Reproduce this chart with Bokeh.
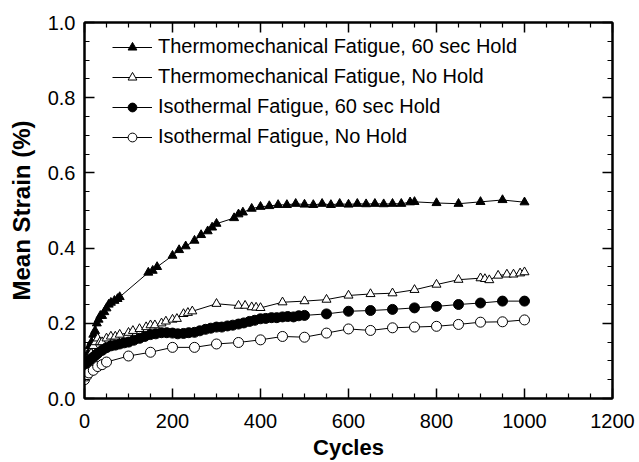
from bokeh.plotting import figure
from bokeh.models import Legend, LegendItem, LinearAxis, FixedTicker, Range1d, CustomJSTickFormatter
from bokeh.embed import file_html
from bokeh.resources import INLINE

tmf60_x = [0, 4, 8, 12, 16, 20, 24, 28, 32, 36, 40, 45, 50, 55, 60, 68, 75, 80, 145, 155, 165, 200, 215, 230, 250, 265, 280, 290, 300, 340, 350, 360, 380, 400, 420, 440, 460, 480, 500, 520, 540, 560, 580, 600, 620, 640, 660, 680, 700, 720, 740, 750, 800, 850, 900, 950, 1000]
tmf60_y = [0.08, 0.10, 0.12, 0.14, 0.15, 0.17, 0.18, 0.20, 0.21, 0.22, 0.22, 0.23, 0.24, 0.25, 0.255, 0.26, 0.265, 0.27, 0.335, 0.34, 0.35, 0.38, 0.395, 0.405, 0.42, 0.435, 0.445, 0.455, 0.465, 0.48, 0.49, 0.495, 0.505, 0.51, 0.512, 0.515, 0.515, 0.518, 0.516, 0.515, 0.518, 0.515, 0.518, 0.516, 0.518, 0.517, 0.518, 0.517, 0.518, 0.518, 0.522, 0.523, 0.52, 0.518, 0.523, 0.528, 0.522]

tmfnh_x = [0, 5, 10, 15, 20, 25, 30, 35, 40, 50, 60, 70, 80, 100, 110, 125, 140, 150, 160, 175, 185, 200, 210, 225, 235, 245, 300, 350, 365, 380, 390, 400, 450, 500, 550, 600, 650, 700, 750, 800, 850, 900, 910, 920, 940, 960, 975, 990, 1000]
tmfnh_y = [0.09, 0.10, 0.11, 0.12, 0.14, 0.15, 0.16, 0.15, 0.15, 0.16, 0.165, 0.165, 0.17, 0.175, 0.18, 0.185, 0.19, 0.195, 0.195, 0.2, 0.205, 0.21, 0.212, 0.225, 0.228, 0.232, 0.252, 0.247, 0.247, 0.243, 0.242, 0.241, 0.256, 0.259, 0.263, 0.274, 0.278, 0.28, 0.289, 0.303, 0.316, 0.32, 0.318, 0.315, 0.327, 0.33, 0.33, 0.333, 0.336]

iso60_x = [0, 5, 10, 15, 20, 25, 30, 40, 50, 60, 70, 80, 90, 100, 112, 125, 137, 150, 162, 175, 187, 200, 212, 225, 237, 250, 262, 275, 287, 300, 312, 325, 337, 350, 362, 375, 387, 400, 412, 425, 437, 450, 462, 475, 487, 500, 550, 600, 650, 700, 750, 800, 850, 900, 950, 1000]
iso60_y = [0.085, 0.095, 0.10, 0.105, 0.11, 0.115, 0.12, 0.128, 0.135, 0.14, 0.142, 0.145, 0.148, 0.15, 0.155, 0.16, 0.165, 0.17, 0.172, 0.175, 0.175, 0.174, 0.172, 0.173, 0.175, 0.176, 0.18, 0.184, 0.187, 0.19, 0.19, 0.193, 0.195, 0.198, 0.201, 0.205, 0.208, 0.212, 0.213, 0.215, 0.215, 0.217, 0.218, 0.217, 0.22, 0.221, 0.225, 0.232, 0.234, 0.237, 0.241, 0.245, 0.25, 0.254, 0.259, 0.259]

isonh_x = [0, 5, 10, 20, 30, 40, 50, 100, 150, 200, 250, 300, 350, 400, 450, 500, 550, 600, 650, 700, 750, 800, 850, 900, 950, 1000]
isonh_y = [0.05, 0.06, 0.068, 0.075, 0.085, 0.09, 0.097, 0.113, 0.123, 0.136, 0.136, 0.145, 0.149, 0.156, 0.165, 0.163, 0.174, 0.185, 0.181, 0.188, 0.19, 0.192, 0.197, 0.203, 0.204, 0.209]

labels = ["Thermomechanical Fatigue, 60 sec Hold",
          "Thermomechanical Fatigue, No Hold",
          "Isothermal Fatigue, 60 sec Hold",
          "Isothermal Fatigue, No Hold"]

x_ticks = [0, 200, 400, 600, 800, 1000, 1200]
y_ticks = [0.0, 0.2, 0.4, 0.6, 0.8, 1.0]

FONT = "Liberation Sans"

p = figure(width=639, height=462, output_backend="svg", toolbar_location=None,
           x_range=Range1d(0, 1200), y_range=Range1d(0, 1.0),
           min_border_left=84, min_border_right=27, min_border_top=22, min_border_bottom=64)
p.background_fill_color = "white"
p.border_fill_color = "white"
p.outline_line_color = "black"
p.outline_line_width = 2
p.grid.visible = False

x_minor = [v for v in range(0, 1201, 50) if v % 200 != 0]
y_minor = [round(v * 0.05, 2) for v in range(0, 21) if v % 4 != 0]

def style_axis(ax, ticks, minor, label=None):
    ax.ticker = FixedTicker(ticks=ticks, minor_ticks=minor)
    ax.major_tick_in = 10
    ax.major_tick_out = 0
    ax.minor_tick_in = 5
    ax.minor_tick_out = 0
    ax.major_tick_line_color = "black"
    ax.minor_tick_line_color = "black"
    ax.major_tick_line_width = 1.5
    ax.minor_tick_line_width = 1.2
    ax.axis_line_color = "black"
    ax.axis_line_width = 2
    ax.major_label_text_font = FONT
    ax.major_label_text_font_size = "20px"
    ax.major_label_text_color = "black"
    if label:
        ax.axis_label = label
        ax.axis_label_text_font = FONT
        ax.axis_label_text_font_style = "bold"
        ax.axis_label_text_color = "black"

style_axis(p.xaxis[0], x_ticks, x_minor, "Cycles")
style_axis(p.yaxis[0], y_ticks, y_minor, "Mean Strain (%)")
p.xaxis[0].axis_label_text_font_size = "22px"
p.yaxis[0].axis_label_text_font_size = "24px"
p.xaxis[0].major_label_standoff = 15
p.yaxis[0].major_label_standoff = 9
p.xaxis[0].axis_label_standoff = 4
p.yaxis[0].axis_label_standoff = 10
p.yaxis[0].formatter = CustomJSTickFormatter(code="return tick.toFixed(1);")

top = LinearAxis()
right = LinearAxis()
style_axis(top, x_ticks, x_minor)
style_axis(right, y_ticks, y_minor)
top.formatter = CustomJSTickFormatter(code="return '';")
right.formatter = CustomJSTickFormatter(code="return '';")
p.add_layout(top, "above")
p.add_layout(right, "right")

items = []
series = [
    (tmf60_x, tmf60_y, "triangle", "black", 9),
    (tmfnh_x, tmfnh_y, "triangle", "white", 9),
    (iso60_x, iso60_y, "circle", "black", 10),
    (isonh_x, isonh_y, "circle", "white", 10),
]
for (xs, ys, marker, fill, size), lab in zip(series, labels):
    ln = p.line(xs, ys, line_color="black", line_width=1)
    sc = p.scatter(xs, ys, marker=marker, size=size, fill_color=fill,
                   line_color="black", line_width=1)
    items.append(LegendItem(label=lab, renderers=[ln, sc]))

legend = Legend(items=items, location=(28, 250))
legend.border_line_color = None
legend.background_fill_alpha = 0
legend.label_text_font = FONT
legend.label_text_font_size = "20px"
legend.label_text_color = "black"
legend.glyph_width = 40
legend.glyph_height = 22
legend.label_height = 22
legend.spacing = 7
legend.label_standoff = 6
legend.padding = 0
legend.margin = 0
p.add_layout(legend, "center")

open("out.html", "w").write(file_html(p, INLINE))
